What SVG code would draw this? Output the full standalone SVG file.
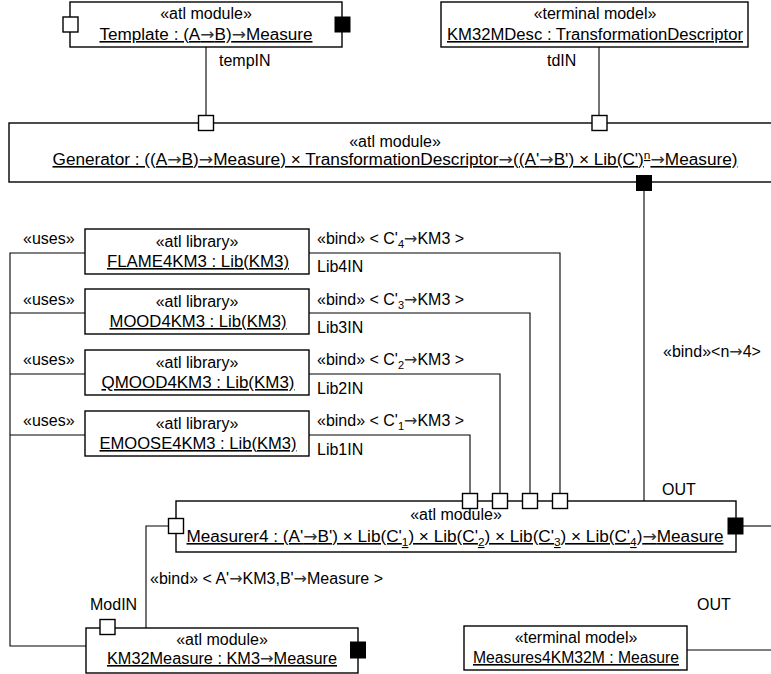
<svg xmlns="http://www.w3.org/2000/svg" width="771" height="674" viewBox="0 0 771 674">
<style>
text{font-family:"Liberation Sans",Arial,sans-serif;font-size:16px;fill:#000}
.c{text-anchor:middle}
.u{text-anchor:middle;text-decoration:underline}
.box{fill:#fff;stroke:#000;stroke-width:1.4}
.pw{fill:#fff;stroke:#000;stroke-width:1.4}
.pb{fill:#000;stroke:#000;stroke-width:1}
.ln{fill:none;stroke:#000;stroke-width:1.1}
.sub{font-size:11px}
.ar{font-family:"DejaVu Sans",sans-serif;fill:#333}
</style>
<rect width="771" height="674" fill="#fff"/>
<g id="connectors">
<path class="ln" d="M206,47 V116"/>
<path class="ln" d="M599,47 V116"/>
<path class="ln" d="M644,191 V501"/>
<path class="ln" d="M85,253 H10 V646 H86"/>
<path class="ln" d="M85,313 H10"/>
<path class="ln" d="M85,374 H10"/>
<path class="ln" d="M85,435 H10"/>
<path class="ln" d="M309,253 H560 V494"/>
<path class="ln" d="M309,313 H530 V494"/>
<path class="ln" d="M309,374 H500 V494"/>
<path class="ln" d="M309,435 H470 V494"/>
<path class="ln" d="M168,526 H146 V628"/>
<path class="ln" d="M743,526 H771"/>
<path class="ln" d="M687,650 H771"/>
<text x="219" y="66">tempIN</text>
<text x="547" y="66">tdIN</text>
<text x="23" y="244">«uses»</text>
<text x="23" y="305">«uses»</text>
<text x="23" y="365">«uses»</text>
<text x="23" y="426">«uses»</text>
<text x="317" y="244">«bind» &lt; C'<tspan class="sub" dy="4">4</tspan><tspan class="ar" dy="-4">→</tspan>KM3 &gt;</text>
<text x="317" y="305">«bind» &lt; C'<tspan class="sub" dy="4">3</tspan><tspan class="ar" dy="-4">→</tspan>KM3 &gt;</text>
<text x="317" y="365">«bind» &lt; C'<tspan class="sub" dy="4">2</tspan><tspan class="ar" dy="-4">→</tspan>KM3 &gt;</text>
<text x="317" y="426">«bind» &lt; C'<tspan class="sub" dy="4">1</tspan><tspan class="ar" dy="-4">→</tspan>KM3 &gt;</text>
<text x="317" y="272">Lib4IN</text>
<text x="317" y="333">Lib3IN</text>
<text x="317" y="394">Lib2IN</text>
<text x="317" y="455">Lib1IN</text>
<text x="663" y="357">«bind»&lt;n<tspan class="ar">→</tspan>4&gt;</text>
<text x="662" y="495">OUT</text>
<text x="150" y="584">«bind» &lt; A'<tspan class="ar">→</tspan>KM3,B'<tspan class="ar">→</tspan>Measure &gt;</text>
<text x="90" y="610">ModIN</text>
<text x="697" y="610">OUT</text>
</g>
<g id="template">
<rect class="box" x="70" y="2" width="272" height="45"/>
<text class="c" x="206" y="19">«atl module»</text>
<text class="u" x="206" y="40" textLength="213" lengthAdjust="spacingAndGlyphs">Template : (A<tspan class="ar">→</tspan>B)<tspan class="ar">→</tspan>Measure</text>
<rect class="pw" x="63" y="17" width="15" height="15"/>
<rect class="pb" x="335" y="17" width="15" height="15"/>
</g>
<g id="km32mdesc">
<rect class="box" x="441" y="2" width="307" height="45"/>
<text class="c" x="595" y="19">«terminal model»</text>
<text class="u" x="595" y="40" textLength="296" lengthAdjust="spacingAndGlyphs">KM32MDesc : TransformationDescriptor</text>
</g>
<g id="generator">
<rect class="box" x="9" y="123" width="780" height="59"/>
<text class="c" x="395" y="147">«atl module»</text>
<text class="u" x="395" y="165" textLength="685" lengthAdjust="spacingAndGlyphs">Generator : ((A<tspan class="ar">→</tspan>B)<tspan class="ar">→</tspan>Measure) × TransformationDescriptor<tspan class="ar">→</tspan>((A'<tspan class="ar">→</tspan>B') × Lib(C')<tspan class="sub" dy="-6">n</tspan><tspan class="ar" dy="6">→</tspan>Measure)</text>
<rect class="pw" x="198.5" y="115.5" width="15" height="15"/>
<rect class="pw" x="592" y="115.5" width="15" height="15"/>
<rect class="pb" x="636.5" y="175.5" width="15" height="15"/>
</g>
<g id="flame">
<rect class="box" x="85" y="229" width="224" height="45"/>
<text class="c" x="197" y="247">«atl library»</text>
<text class="u" x="198" y="267" textLength="182" lengthAdjust="spacingAndGlyphs">FLAME4KM3 : Lib(KM3)</text>
</g>
<g id="mood">
<rect class="box" x="85" y="289" width="224" height="45"/>
<text class="c" x="197" y="307">«atl library»</text>
<text class="u" x="198" y="327" textLength="177" lengthAdjust="spacingAndGlyphs">MOOD4KM3 : Lib(KM3)</text>
</g>
<g id="qmood">
<rect class="box" x="85" y="350" width="224" height="45"/>
<text class="c" x="197" y="368">«atl library»</text>
<text class="u" x="198" y="388" textLength="193" lengthAdjust="spacingAndGlyphs">QMOOD4KM3 : Lib(KM3)</text>
</g>
<g id="emoose">
<rect class="box" x="85" y="411" width="224" height="45"/>
<text class="c" x="197" y="429">«atl library»</text>
<text class="u" x="198" y="449" textLength="197" lengthAdjust="spacingAndGlyphs">EMOOSE4KM3 : Lib(KM3)</text>
</g>
<g id="measurer4">
<rect class="box" x="176" y="501" width="560" height="51"/>
<text class="c" x="456" y="520">«atl module»</text>
<text class="u" x="455" y="542" textLength="537" lengthAdjust="spacingAndGlyphs">Measurer4 : (A'<tspan class="ar">→</tspan>B') × Lib(C'<tspan class="sub" dy="4">1</tspan><tspan dy="-4">) × Lib(C'</tspan><tspan class="sub" dy="4">2</tspan><tspan dy="-4">) × Lib(C'</tspan><tspan class="sub" dy="4">3</tspan><tspan dy="-4">) × Lib(C'</tspan><tspan class="sub" dy="4">4</tspan><tspan dy="-4">)</tspan><tspan class="ar">→</tspan>Measure</text>
<rect class="pw" x="462.5" y="493.5" width="15" height="15"/>
<rect class="pw" x="492.5" y="493.5" width="15" height="15"/>
<rect class="pw" x="522.5" y="493.5" width="15" height="15"/>
<rect class="pw" x="552.5" y="493.5" width="15" height="15"/>
<rect class="pw" x="168.5" y="518.5" width="15" height="15"/>
<rect class="pb" x="728" y="518" width="15" height="16"/>
</g>
<g id="km32measure">
<rect class="box" x="86" y="628" width="272" height="45"/>
<text class="c" x="222" y="645">«atl module»</text>
<text class="u" x="222" y="664" textLength="230" lengthAdjust="spacingAndGlyphs">KM32Measure : KM3<tspan class="ar">→</tspan>Measure</text>
<rect class="pw" x="100" y="619.5" width="15" height="15"/>
<rect class="pb" x="350.5" y="642" width="15" height="16"/>
</g>
<g id="measures4km32m">
<rect class="box" x="464" y="626" width="223" height="44"/>
<text class="c" x="576" y="643">«terminal model»</text>
<text class="u" x="576" y="663" textLength="206" lengthAdjust="spacingAndGlyphs">Measures4KM32M : Measure</text>
</g>
</svg>
